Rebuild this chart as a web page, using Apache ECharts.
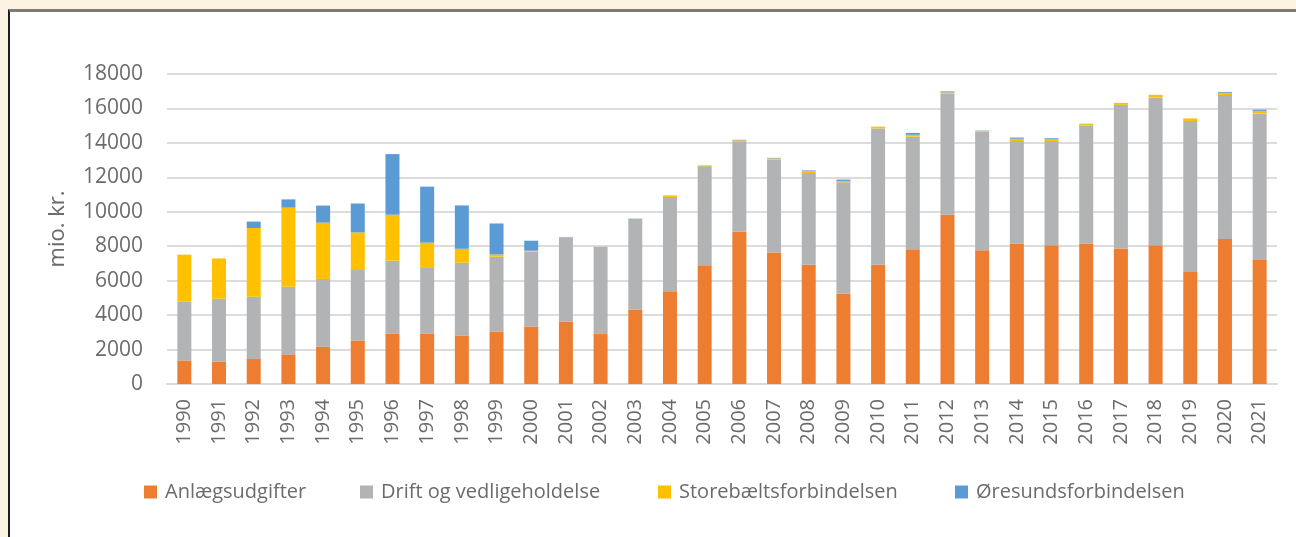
<!DOCTYPE html>
<html>
<head>
<meta charset="utf-8">
<script src="https://cdn.jsdelivr.net/npm/echarts@6/dist/echarts.min.js"></script>
<style>
  html, body { margin: 0; padding: 0; }
  body { width: 1296px; height: 537px; background: #fdf3e2; position: relative; overflow: hidden; }
  #panel { position: absolute; left: 8px; top: 9px; width: 1300px; height: 540px; background: #fff;
           border-left: 2px solid #1e1e1e; border-top: 3px solid #7f7a72; }
  #chart { position: absolute; left: 0; top: 0; width: 1296px; height: 537px; }
</style>
</head>
<body>
<div id="panel"></div>
<div id="chart"></div>
<script>
// år
const years = ['1990', '1991', '1992', '1993', '1994', '1995', '1996', '1997', '1998', '1999',
  '2000', '2001', '2002', '2003', '2004', '2005', '2006', '2007', '2008', '2009',
  '2010', '2011', '2012', '2013', '2014', '2015', '2016', '2017', '2018', '2019', '2020', '2021'];

// mio. kr.
const anlaeg = [1370, 1310, 1450, 1720, 2170, 2530, 2940, 2940, 2820, 3050,
  3340, 3630, 2900, 4330, 5380, 6890, 8860, 7640, 6930, 5260,
  6930, 7820, 9830, 7760, 8160, 8050, 8160, 7870, 8050, 6500, 8420, 7200];
const drift = [3430, 3640, 3620, 3930, 3930, 4090, 4220, 3800, 4220, 4340,
  4360, 4860, 5070, 5250, 5480, 5710, 5230, 5400, 5320, 6450,
  7910, 6540, 7040, 6890, 5950, 6060, 6850, 8340, 8590, 8770, 8360, 8510];
const storebaelt = [2710, 2340, 3990, 4590, 3270, 2180, 2670, 1470, 810, 130,
  40, 30, 0, 0, 60, 40, 60, 60, 100, 80,
  100, 110, 60, 50, 130, 100, 80, 110, 150, 150, 130, 150];
const oresund = [0, 0, 370, 480, 990, 1680, 3520, 3250, 2520, 1800,
  580, 20, 0, 20, 20, 40, 30, 30, 50, 80,
  0, 110, 60, 20, 70, 60, 20, 0, 0, 0, 50, 70];

const names = ['Anlægsudgifter', 'Drift og vedligeholdelse', 'Storebæltsforbindelsen', 'Øresundsforbindelsen'];
const colors = ['#ed7d31', '#b2b3b4', '#ffc000', '#5b9bd5'];
const legendLeft = [139, 355, 653, 950]; //图例位置

const textColor = '#6b6b6b';
const font = '"Open Sans", "Liberation Sans", sans-serif';

let chart = echarts.init(document.getElementById('chart'), null, { renderer: 'canvas' });

let series = [anlaeg, drift, storebaelt, oresund].map((d, i) => ({
  type: 'bar',
  name: names[i],
  stack: 'total',
  data: d,
  barWidth: 14,
  itemStyle: { color: colors[i] },
}));

chart.setOption({
  backgroundColor: 'transparent',
  animation: false,
  color: colors,
  grid: { left: 167, right: 19, top: 74, bottom: 153 },
  legend: names.map((n, i) => ({
    data: [n],
    left: legendLeft[i],
    top: 477,
    icon: 'rect',
    itemWidth: 13,
    itemHeight: 13,
    textStyle: { color: textColor, fontSize: 20, fontFamily: font, padding: [0, 0, 0, 3] },
  })),
  xAxis: {
    type: 'category',
    data: years,
    axisTick: { show: false },
    axisLine: { lineStyle: { color: '#d9d9d9', width: 2 } },
    axisLabel: { rotate: 90, fontSize: 20, margin: 15, color: textColor, fontFamily: font },
  },
  yAxis: {
    type: 'value',
    min: 0,
    max: 18000,
    interval: 2000,
    name: 'mio. kr.',
    nameLocation: 'middle',
    nameGap: 98,
    nameTextStyle: { fontSize: 22, color: textColor, fontFamily: font },
    axisLine: { show: false },
    axisTick: { show: false },
    splitLine: { lineStyle: { color: '#dcdcdc', width: 2 } },
    axisLabel: {
      fontSize: 21,
      margin: 24,
      color: textColor,
      fontFamily: font,
      formatter: function(value) {
        return String(value);
      },
    },
  },
  series: series,
});
</script>
</body>
</html>
